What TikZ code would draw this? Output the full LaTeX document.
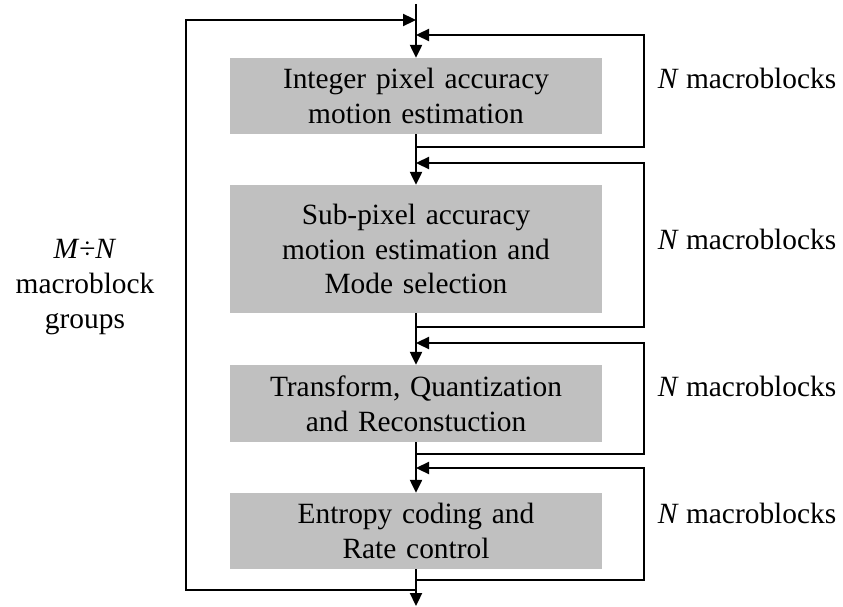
\documentclass[tikz,border=0pt]{standalone}
\usepackage{fontspec}
\setmainfont{Liberation Serif}
\usetikzlibrary{arrows.meta}
\definecolor{stagegray}{RGB}{192,192,192}

\begin{document}
\begin{tikzpicture}[x=1bp,y=-1bp,
  stage/.style={fill=stagegray, minimum width=372bp, inner sep=0pt, text width=366bp, align=center, font=\fontsize{29.5}{35}\selectfont},
  flow/.style={line width=2.3bp, -{Triangle[length=13bp,width=12bp]}},
  note/.style={font=\fontsize{29.5}{35}\selectfont, align=center}]
\useasboundingbox (0,0) rectangle (843,607);
\node[stage, minimum height=76bp] (ime) at (416,96) {Integer pixel accuracy\\motion estimation};
\node[stage, minimum height=128bp] (sme) at (416,249) {Sub-pixel accuracy\\motion estimation and\\Mode selection};
\node[stage, minimum height=77bp] (tqr) at (416,403.5) {Transform, Quantization\\and Reconstuction};
\node[stage, minimum height=76bp] (erc) at (416,531) {Entropy coding and\\Rate control};
\coordinate (in) at (416,4);
\coordinate (out) at (416,606);
\coordinate (grpin) at (416,20);
\coordinate (grpout) at (416,590);
\coordinate (grpleft) at (186,20);
\coordinate (rt) at (644,0);
\draw[flow] (in) -- (ime);
\draw[flow] (ime) -- (sme);
\draw[flow] (sme) -- (tqr);
\draw[flow] (tqr) -- (erc);
\draw[flow] (erc) -- (out);
\foreach \i/\ey/\ry in {1/147/35, 2/327/163, 3/454/343, 4/580/468} {
  \coordinate (out\i) at (416,\ey);
  \coordinate (back\i) at (416,\ry);
  \draw[flow] (out\i) -- (out\i -| rt) |- (back\i);
}
\draw[flow] (grpout) -| (grpleft) -- (grpin);
\foreach \i/\by in {1/88.5, 2/250, 3/396, 4/523.5} {
  \node[note, anchor=base] (nmb\i) at (747,\by) {\textit{N} macroblocks};
}
\node[note] (groups) at (85,287) {\textit{M}÷\textit{N}\\macroblock\\groups};
\end{tikzpicture}
\end{document}
